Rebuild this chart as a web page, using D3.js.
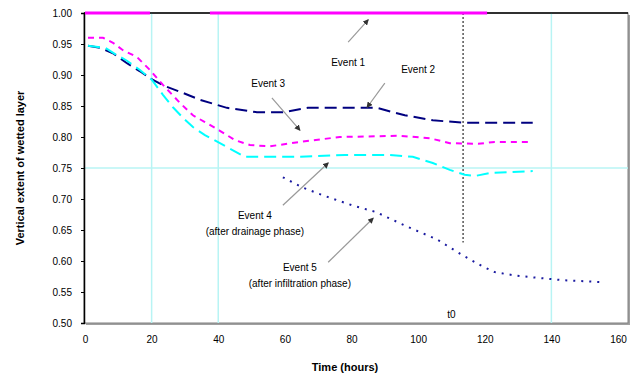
<!DOCTYPE html>
<html>
<head>
<meta charset="utf-8">
<script src="https://cdn.jsdelivr.net/npm/d3@7/dist/d3.min.js"></script>
<style>
  body { margin: 0; background: #fff; }
  text { font-family: "Liberation Sans", Arial, sans-serif; }
</style>
</head>
<body>
<div id="chart"></div>
<script>
// ---- data ----
const timeTicks = [0, 20, 40, 60, 80, 100, 120, 140, 160];
const levelTicks = [1.00, 0.95, 0.90, 0.85, 0.80, 0.75, 0.70, 0.65, 0.60, 0.55, 0.50];
const refTimes = [20, 40, 140];
const refLevels = [0.75];
const eventTime = 113.5;
const eventLabel = "t0";

const event1Time  = [0, 19.5, 28, 37.5, 120.7];
const event1Value = [1.0, 1.0, null, 1.0, 1.0];

const event2Time  = [0.9, 4.5, 8.4, 12.6, 16.5, 20.4, 24, 28.5, 34.5, 42.6, 51.6, 59.4, 66.9, 87.6, 96, 104.4, 113.4, 119.4, 134.4];
const event2Value = [0.947, 0.944, 0.935, 0.919, 0.906, 0.892, 0.882, 0.873, 0.860, 0.847, 0.840, 0.840, 0.847, 0.847, 0.835, 0.827, 0.823, 0.823, 0.823];

const event3Time  = [0.9, 5.4, 8.4, 11.4, 15.6, 19.5, 23.4, 28.5, 32.4, 36, 40.5, 45, 49.5, 55.5, 64.5, 76.5, 94.5, 103.5, 109.5, 118, 123, 134.4];
const event3Value = [0.960, 0.960, 0.952, 0.940, 0.929, 0.908, 0.884, 0.855, 0.835, 0.824, 0.810, 0.795, 0.787, 0.785, 0.792, 0.800, 0.802, 0.798, 0.790, 0.789, 0.792, 0.792];

const event4Time  = [0.9, 6, 9.6, 12.6, 16.5, 20.1, 23.4, 26.4, 29.4, 32.4, 36, 40.5, 48, 64.5, 78, 91.5, 98.4, 104.4, 109.5, 114, 117, 121.5, 134.4];
const event4Value = [0.947, 0.944, 0.932, 0.923, 0.908, 0.892, 0.868, 0.848, 0.831, 0.816, 0.803, 0.790, 0.768, 0.768, 0.771, 0.771, 0.768, 0.758, 0.747, 0.739, 0.737, 0.742, 0.745];

const event5Time  = [59.4, 65.1, 71.4, 80.1, 87.3, 96.9, 105.6, 112.8, 119.1, 123, 128.7, 135.6, 143.7, 155];
const event5Value = [0.735, 0.719, 0.706, 0.690, 0.679, 0.655, 0.635, 0.611, 0.592, 0.582, 0.577, 0.573, 0.569, 0.566];

const labelLines = [
    ["Event 1"],
    ["Event 2"],
    ["Event 3"],
    ["Event 4", "(after drainage phase)"],
    ["Event 5", "(after infiltration phase)"]
];

// ---- layout / styles ----
const width = 632, height = 381;
const plot = { left: 84, right: 628, top: 13, bottom: 323 };

const series = [
    { time: event1Time, value: event1Value, colour: "#ff00ff", width: 3, dash: null },
    { time: event2Time, value: event2Value, colour: "#000080", width: 2, dash: "12,6" },
    { time: event3Time, value: event3Value, colour: "#ff00ff", width: 2, dash: "6,5" },
    { time: event4Time, value: event4Value, colour: "#00ffff", width: 2, dash: "12,6" },
    { time: event5Time, value: event5Value, colour: "#1a1aa0", width: 2, dash: "2,6" }
];

// annotation anchors in data units: text position, leader start, leader end
const annotations = [
    { text: [79, 0.915], from: [79, 0.953], to: [85, 0.989] },
    { text: [100, 0.903], from: [90, 0.887], to: [84.7, 0.848] },
    { text: [55, 0.881], from: [56.1, 0.863], to: [64.5, 0.811] },
    { text: [51, 0.668], from: [59.4, 0.690], to: [73, 0.758] },
    { text: [64.5, 0.584], from: [73, 0.598], to: [86.5, 0.669] }
];

const svg = d3.select("#chart").append("svg")
    .attr("width", width)
    .attr("height", height);

const x = d3.scaleLinear()
    .domain([0, 163])
    .range([plot.left + 1, plot.right]);

const y = d3.scaleLinear()
    .domain([0.5, 1.0])
    .range([plot.bottom, plot.top]);

// plot frame shadow
svg.append("rect")
    .attr("x", plot.left + 2)
    .attr("y", plot.top + 2)
    .attr("width", plot.right - plot.left)
    .attr("height", plot.bottom - plot.top)
    .attr("fill", "#a0a0a0");

svg.append("rect")
    .attr("x", plot.left)
    .attr("y", plot.top)
    .attr("width", plot.right - plot.left)
    .attr("height", plot.bottom - plot.top)
    .attr("fill", "#fff")
    .attr("stroke", "#808080")
    .attr("stroke-width", 1);

// cyan reference lines
svg.selectAll(".ref-v")
    .data(refTimes)
    .enter().append("line")
    .attr("x1", d => x(d)).attr("x2", d => x(d))
    .attr("y1", plot.top).attr("y2", plot.bottom)
    .attr("stroke", "#b8f4f4")
    .attr("stroke-width", 1.5);

svg.selectAll(".ref-h")
    .data(refLevels)
    .enter().append("line")
    .attr("x1", plot.left).attr("x2", plot.right)
    .attr("y1", d => y(d)).attr("y2", d => y(d))
    .attr("stroke", "#b8f4f4")
    .attr("stroke-width", 1.5);

// axes
const xAxisGroup = svg.append("g")
    .attr("transform", `translate(0,${plot.bottom})`)
    .call(d3.axisBottom(x).tickValues(timeTicks).tickSize(0).tickPadding(13));

xAxisGroup.select(".domain").remove();
xAxisGroup.selectAll("text").style("font-size", "10px").style("fill", "#000");

const yAxisGroup = svg.append("g")
    .attr("transform", `translate(${plot.left},0)`)
    .call(d3.axisLeft(y).tickValues(levelTicks).tickSize(3).tickPadding(9).tickFormat(d3.format(".2f")));

yAxisGroup.select(".domain").attr("stroke", "#000").attr("stroke-width", 1.5);
yAxisGroup.selectAll("line").attr("stroke", "#000");
yAxisGroup.selectAll("text").style("font-size", "10px").style("fill", "#000");

svg.append("line")
    .attr("x1", plot.left).attr("x2", plot.right)
    .attr("y1", plot.top).attr("y2", plot.top)
    .attr("stroke", "#000")
    .attr("stroke-width", 1.5);

svg.append("text")
    .attr("x", 345)
    .attr("y", 371)
    .attr("text-anchor", "middle")
    .style("font-size", "11px")
    .style("font-weight", "bold")
    .text("Time (hours)");

svg.append("text")
    .attr("transform", "rotate(-90)")
    .attr("x", -168)
    .attr("y", 24)
    .attr("text-anchor", "middle")
    .style("font-size", "11px")
    .style("font-weight", "bold")
    .text("Vertical extent of wetted layer");

// event marker line
svg.append("line")
    .attr("x1", x(eventTime)).attr("x2", x(eventTime))
    .attr("y1", y(1.0)).attr("y2", y(0.63))
    .attr("stroke", "#555")
    .attr("stroke-width", 1.5)
    .attr("stroke-dasharray", "2,2");

svg.append("text")
    .attr("x", x(110))
    .attr("y", y(0.508))
    .attr("text-anchor", "middle")
    .style("font-size", "10px")
    .text(eventLabel);

// series lines
const line = d3.line()
    .defined(d => d.value !== null)
    .x(d => x(d.time))
    .y(d => y(d.value));

series.forEach(s => {
    const pts = s.time.map((t, i) => ({ time: t, value: s.value[i] }));
    svg.append("path")
        .datum(pts)
        .attr("fill", "none")
        .attr("stroke", s.colour)
        .attr("stroke-width", s.width)
        .attr("stroke-dasharray", s.dash)
        .attr("d", line);
});

// annotations
svg.append("defs").append("marker")
    .attr("id", "tip")
    .attr("viewBox", "0 0 6 6")
    .attr("refX", 5).attr("refY", 3)
    .attr("markerWidth", 5).attr("markerHeight", 5)
    .attr("orient", "auto")
    .append("path")
    .attr("d", "M0,0L6,3L0,6Z")
    .attr("fill", "#333");

annotations.forEach((a, i) => {
    svg.append("line")
        .attr("x1", x(a.from[0])).attr("y1", y(a.from[1]))
        .attr("x2", x(a.to[0])).attr("y2", y(a.to[1]))
        .attr("stroke", "#999")
        .attr("stroke-width", 1.2)
        .attr("marker-end", "url(#tip)");

    const t = svg.append("text")
        .attr("x", x(a.text[0]))
        .attr("y", y(a.text[1]))
        .attr("text-anchor", "middle")
        .style("font-size", "10px");

    labelLines[i].forEach((s, j) => {
        t.append("tspan")
            .attr("x", x(a.text[0]))
            .attr("dy", j === 0 ? 0 : 16)
            .text(s);
    });
});
</script>
</body>
</html>
